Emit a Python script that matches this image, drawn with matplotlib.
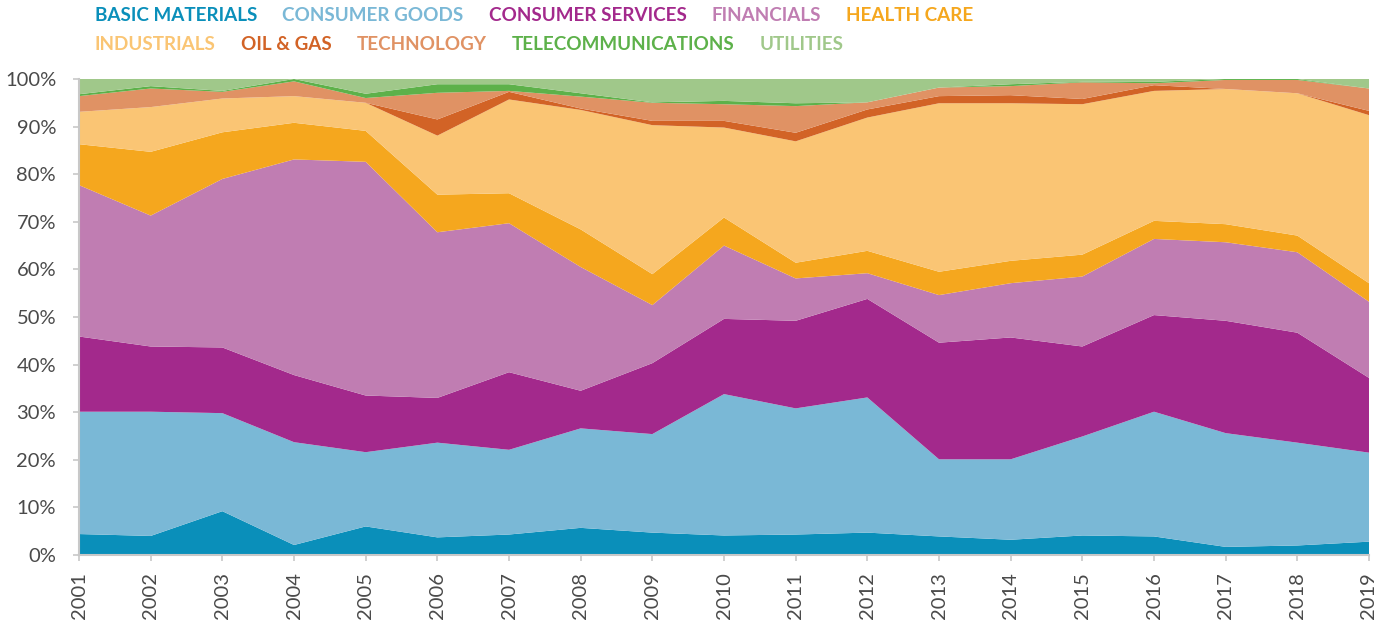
import matplotlib
matplotlib.use("Agg")
import matplotlib.pyplot as plt
import numpy as np

# Sector share of total (%) by year
years = list(range(2001, 2020))

basic_materials = [4.4, 4.0, 9.2, 2.1, 6.0, 3.7, 4.3, 5.7, 4.7, 4.1, 4.3, 4.7, 3.9, 3.2, 4.1, 3.9, 1.7, 2.0, 2.8]
consumer_goods = [25.7, 26.1, 20.6, 21.6, 15.6, 19.9, 17.8, 20.9, 20.7, 29.7, 26.5, 28.4, 16.2, 16.9, 20.8, 26.2, 23.9, 21.6, 18.7]
consumer_services = [15.8, 13.7, 13.8, 14.1, 11.9, 9.4, 16.3, 7.9, 14.9, 15.8, 18.4, 20.7, 24.5, 25.6, 18.9, 20.3, 23.6, 23.1, 15.7]
financials = [31.8, 27.5, 35.4, 45.3, 49.1, 34.8, 31.3, 26.0, 12.2, 15.4, 8.9, 5.4, 10.0, 11.4, 14.7, 16.0, 16.5, 16.9, 16.0]
health_care = [8.6, 13.4, 9.8, 7.7, 6.5, 7.9, 6.3, 7.9, 6.5, 5.9, 3.3, 4.7, 4.9, 4.7, 4.6, 3.8, 3.8, 3.5, 3.9]
industrials = [6.8, 9.4, 7.1, 5.6, 5.9, 12.4, 19.7, 25.1, 31.3, 18.9, 25.5, 28.0, 35.4, 33.1, 31.6, 27.3, 28.4, 29.9, 35.3]
oil_gas = [0.0, 0.0, 0.0, 0.0, 0.0, 3.4, 1.6, 0.3, 0.9, 1.4, 1.8, 1.7, 1.5, 1.7, 1.1, 1.2, 0.0, 0.0, 0.9]
technology = [3.3, 3.9, 1.4, 3.1, 1.0, 5.6, 0.2, 2.5, 3.8, 3.5, 5.6, 1.5, 1.8, 1.9, 3.5, 0.4, 1.9, 2.8, 4.7]
telecom = [0.4, 0.5, 0.2, 0.5, 0.9, 1.8, 1.4, 0.7, 0.1, 0.7, 0.6, 0.0, 0.0, 0.4, 0.1, 0.3, 0.2, 0.2, 0.0]
utilities = [3.2, 1.5, 2.5, 0.0, 3.1, 1.1, 1.1, 3.0, 4.9, 4.6, 5.1, 4.9, 1.8, 1.1, 0.6, 0.6, 0.0, 0.0, 2.0]

labels = ["BASIC MATERIALS", "CONSUMER GOODS", "CONSUMER SERVICES", "FINANCIALS", "HEALTH CARE",
          "INDUSTRIALS", "OIL & GAS", "TECHNOLOGY", "TELECOMMUNICATIONS", "UTILITIES"]
colors = ["#0a8fba", "#7ab8d6", "#a3298c", "#c07db2", "#f5a71e",
          "#fac574", "#d26326", "#e09264", "#5db14a", "#a0c88a"]

series = [basic_materials, consumer_goods, consumer_services, financials, health_care,
          industrials, oil_gas, technology, telecom, utilities]

plt.rcParams['font.family'] = ['Lato', 'DejaVu Sans']

fig = plt.figure(figsize=(13.89, 6.21), dpi=100)
ax = fig.add_axes([0.0569, 0.1063, 0.9287, 0.7665])

ax.stackplot(years, np.array(series) / 100.0, colors=colors, linewidth=0)

ax.set_xlim(years[0], years[-1])
ax.set_ylim(0, 1)
ax.set_xticks(years)
ax.set_xticklabels([str(y) for y in years], rotation=90)
yt = np.arange(0, 1.01, 0.1)
ax.set_yticks(yt)
ax.set_yticklabels([f"{int(round(v * 100))}%" for v in yt])

for s in ["top", "right"]:
    ax.spines[s].set_visible(False)
for s in ["left", "bottom"]:
    ax.spines[s].set_color("#c8c8c8")
    ax.spines[s].set_linewidth(1.5)
ax.tick_params(axis="both", color="#c8c8c8", labelcolor="#4a4a4a", labelsize=14.5,
               length=4.5, width=1.2)
ax.tick_params(axis="x", pad=8)
ax.tick_params(axis="y", pad=12)

# two-row coloured legend drawn as text
rows = [range(0, 5), range(5, 10)]
row_y = [0.975, 0.928]
x0 = 95 / 1389
gap = 25 / 1389
fig.canvas.draw()
renderer = fig.canvas.get_renderer()
for r, yy in zip(rows, row_y):
    x = x0
    for i in r:
        t = fig.text(x, yy, labels[i], color=colors[i], fontsize=13.6, fontweight="bold",
                     ha="left", va="center")
        bb = t.get_window_extent(renderer=renderer)
        x += bb.width / fig.bbox.width + gap

fig.savefig("out.png", dpi=100)
